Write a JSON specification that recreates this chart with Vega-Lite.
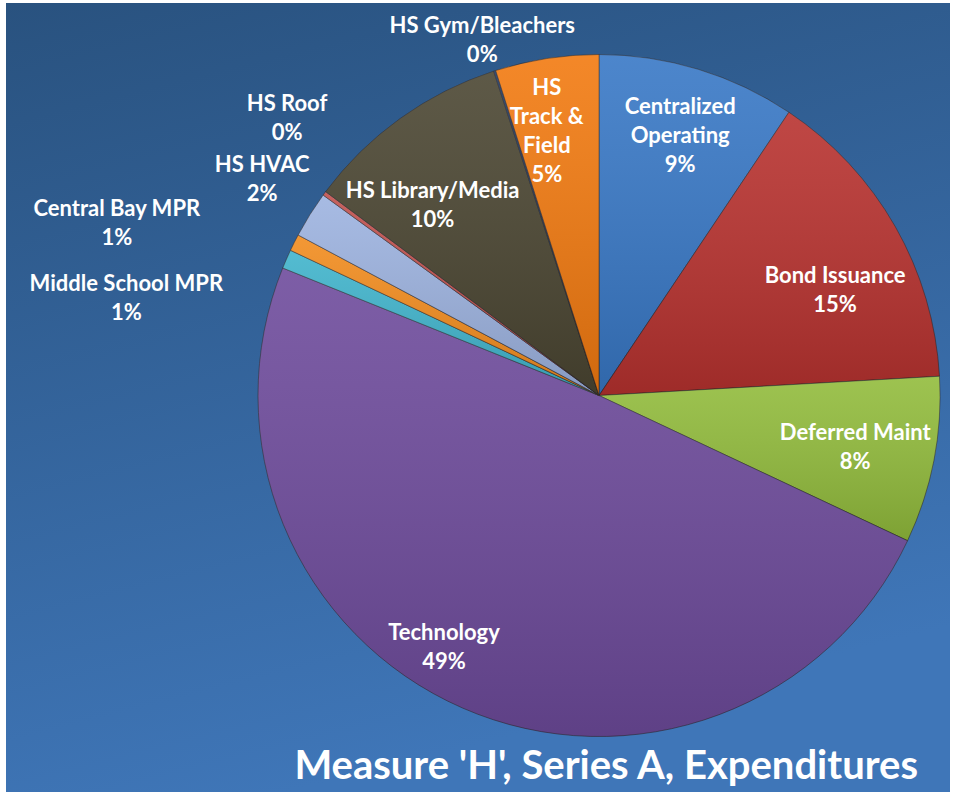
{
  "$schema": "https://vega.github.io/schema/vega-lite/v6.json",
  "width": 944,
  "height": 789,
  "autosize": {"type": "none"},
  "padding": {"left": 6, "top": 3, "right": 5, "bottom": 5},
  "background": "#ffffff",
  "title": {
    "text": "Measure 'H', Series A, Expenditures",
    "orient": "bottom",
    "anchor": "end",
    "frame": "group",
    "baseline": "alphabetic",
    "offset": -13,
    "dx": -32,
    "font": "Lato",
    "fontSize": 40,
    "fontWeight": "bold",
    "color": "#ffffff"
  },
  "config": {
    "view": {
      "stroke": null,
      "fill": {
        "gradient": "linear",
        "x1": 0, "y1": 0, "x2": 0.3, "y2": 1,
        "stops": [
          {"offset": 0, "color": "#29527f"},
          {"offset": 1, "color": "#3f76b8"}
        ]
      }
    },
    "text": {
      "font": "Lato",
      "fontSize": 22,
      "fontWeight": "bold",
      "fill": "#ffffff",
      "lineBreak": "\n",
      "lineHeight": 29,
      "align": "center",
      "baseline": "middle"
    }
  },
  "data": {
    "values": [
      {"category": "Centralized Operating", "value": 9.4, "label": "Centralized\nOperating\n9%"},
      {"category": "Bond Issuance", "value": 14.7, "label": "Bond Issuance\n15%"},
      {"category": "Deferred Maint", "value": 7.9, "label": "Deferred Maint\n8%"},
      {"category": "Technology", "value": 49.1, "label": "Technology\n49%"},
      {"category": "Middle School MPR", "value": 0.9, "label": "Middle School MPR\n1%"},
      {"category": "Central Bay MPR", "value": 0.8, "label": "Central Bay MPR\n1%"},
      {"category": "HS HVAC", "value": 2.2, "label": "HS HVAC\n2%"},
      {"category": "HS Roof", "value": 0.2, "label": "HS Roof\n0%"},
      {"category": "HS Library/Media", "value": 9.8, "label": "HS Library/Media\n10%"},
      {"category": "HS Gym/Bleachers", "value": 0.1, "label": "HS Gym/Bleachers\n0%"},
      {"category": "HS Track & Field", "value": 4.9, "label": "HS\nTrack &\nField\n5%"}
    ]
  },
  "transform": [{"window": [{"op": "row_number", "as": "idx"}]}],
  "encoding": {
    "theta": {"field": "value", "type": "quantitative", "stack": true},
    "order": {"field": "idx", "type": "quantitative"},
    "detail": {"field": "category", "type": "nominal"},
    "x": {"value": {"expr": "width * 0.6282"}},
    "y": {"value": {"expr": "height * 0.4975"}}
  },
  "layer": [
    {
      "mark": {"type": "arc", "outerRadius": 341, "stroke": "#2b2626", "strokeOpacity": 0.55, "strokeWidth": 1},
      "encoding": {
        "color": {
          "field": "category",
          "type": "nominal",
          "legend": null,
          "scale": {
            "domain": ["Centralized Operating", "Bond Issuance", "Deferred Maint", "Technology", "Middle School MPR", "Central Bay MPR", "HS HVAC", "HS Roof", "HS Library/Media", "HS Gym/Bleachers", "HS Track & Field"],
            "range": ["#3878c6", "#b8322f", "#92bc3c", "#6e4b9c", "#40b4cc", "#f28c1e", "#9db3e0", "#c0504d", "#4b4632", "#1f3864", "#f27a10"]
          }
        }
      }
    },
    {
      "mark": {
        "type": "arc",
        "outerRadius": 341,
        "fill": {
          "gradient": "linear",
          "x1": 0, "y1": 0, "x2": 0, "y2": 1,
          "stops": [
            {"offset": 0, "color": "rgba(255,255,255,0.10)"},
            {"offset": 1, "color": "rgba(0,0,0,0.14)"}
          ]
        }
      }
    },
    {
      "mark": {"type": "text", "radius": 272, "dx": 2, "dy": -28},
      "encoding": {"text": {"condition": {"test": "datum.category === 'Centralized Operating'", "field": "label", "type": "nominal"}, "value": ""}}
    },
    {
      "mark": {"type": "text", "radius": 258, "dx": 12, "dy": 8},
      "encoding": {"text": {"condition": {"test": "datum.category === 'Bond Issuance'", "field": "label", "type": "nominal"}, "value": ""}}
    },
    {
      "mark": {"type": "text", "radius": 261, "dx": 0, "dy": -12},
      "encoding": {"text": {"condition": {"test": "datum.category === 'Deferred Maint'", "field": "label", "type": "nominal"}, "value": ""}}
    },
    {
      "mark": {"type": "text", "radius": 295, "dx": -37, "dy": -33},
      "encoding": {"text": {"condition": {"test": "datum.category === 'Technology'", "field": "label", "type": "nominal"}, "value": ""}}
    },
    {
      "mark": {"type": "text", "radius": 253, "dx": -19, "dy": 1},
      "encoding": {"text": {"condition": {"test": "datum.category === 'HS Library/Media'", "field": "label", "type": "nominal"}, "value": ""}}
    },
    {
      "mark": {"type": "text", "radius": 269, "dx": -11, "dy": -42},
      "encoding": {"text": {"condition": {"test": "datum.category === 'HS Track & Field'", "field": "label", "type": "nominal"}, "value": ""}}
    },
    {
      "mark": {"type": "text", "radius": 375, "dx": -129, "dy": 38},
      "encoding": {"text": {"condition": {"test": "datum.category === 'Middle School MPR'", "field": "label", "type": "nominal"}, "value": ""}}
    },
    {
      "mark": {"type": "text", "radius": 375, "dx": -147, "dy": -18},
      "encoding": {"text": {"condition": {"test": "datum.category === 'Central Bay MPR'", "field": "label", "type": "nominal"}, "value": ""}}
    },
    {
      "mark": {"type": "text", "radius": 375, "dx": -19, "dy": -32},
      "encoding": {"text": {"condition": {"test": "datum.category === 'HS HVAC'", "field": "label", "type": "nominal"}, "value": ""}}
    },
    {
      "mark": {"type": "text", "radius": 375, "dx": -10, "dy": -69},
      "encoding": {"text": {"condition": {"test": "datum.category === 'HS Roof'", "field": "label", "type": "nominal"}, "value": ""}}
    },
    {
      "mark": {"type": "text", "radius": 375, "dx": -2, "dy": -13},
      "encoding": {"text": {"condition": {"test": "datum.category === 'HS Gym/Bleachers'", "field": "label", "type": "nominal"}, "value": ""}}
    }
  ]
}
